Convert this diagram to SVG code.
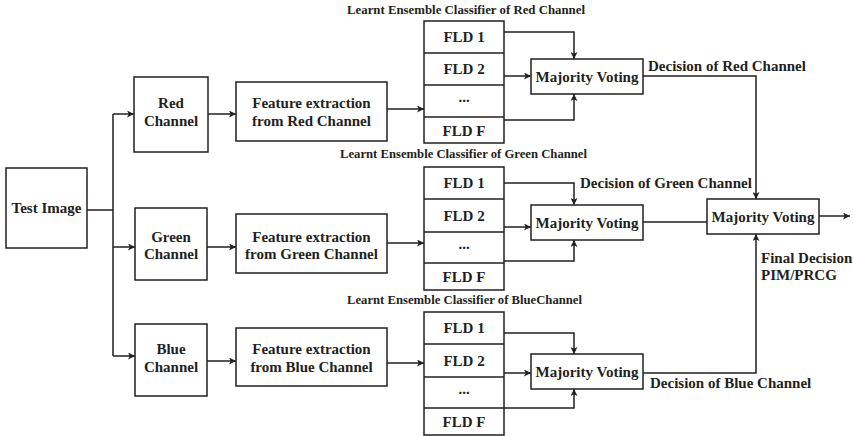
<svg xmlns="http://www.w3.org/2000/svg" width="853" height="436" viewBox="0 0 853 436">
  <defs>
    <style>
      .box { fill: #fff; stroke: #231f20; stroke-width: 1.5; }
      .ln { fill: none; stroke: #231f20; stroke-width: 1.5; }
      .arr { fill: none; stroke: #231f20; stroke-width: 1.5; marker-end: url(#ah); }
      text { font-family: "Liberation Serif", "Times New Roman", serif; font-weight: bold; fill: #231f20; }
      .t { font-size: 15px; text-anchor: middle; }
      .l { font-size: 15px; }
      .cap { font-size: 12px; }
    </style>
    <marker id="ah" viewBox="0 0 10 10" refX="10" refY="5" markerWidth="7" markerHeight="7" markerUnits="userSpaceOnUse" orient="auto">
      <path d="M0,0 L10,5 L0,10 L2.5,5 z" fill="#231f20"/>
    </marker>
  </defs>

  <rect width="853" height="436" fill="#fff"/>

  <!-- connectors -->
  <g id="connectors">
    <!-- input fan-out -->
    <path class="ln" d="M87,210 H113 M113,114 V356"/>
    <path class="arr" d="M113,114 H134"/>
    <path class="arr" d="M113,247 H135"/>
    <path class="arr" d="M113,356 H135"/>
    <!-- channel to feature extraction -->
    <path class="arr" d="M208,114 H236"/>
    <path class="arr" d="M207,247 H236"/>
    <path class="arr" d="M207,361 H236"/>
    <!-- feature extraction to classifiers -->
    <path class="arr" d="M387,109 H424"/>
    <path class="arr" d="M387,243 H424"/>
    <path class="arr" d="M387,363 H424"/>
    <!-- red ensemble to voting -->
    <path class="arr" d="M504,32 H574 V59"/>
    <path class="arr" d="M504,76 H531"/>
    <path class="arr" d="M504,120 H574 V94"/>
    <!-- green ensemble to voting -->
    <path class="arr" d="M504,183 H574 V205"/>
    <path class="arr" d="M504,227 H531"/>
    <path class="arr" d="M504,261 H574 V240"/>
    <!-- blue ensemble to voting -->
    <path class="arr" d="M504,333 H574 V354"/>
    <path class="arr" d="M504,373 H531"/>
    <path class="arr" d="M504,408 H574 V389"/>
    <!-- channel decisions to final voting -->
    <path class="arr" d="M643,76 H756 V199"/>
    <path class="ln" d="M643,222 H707"/>
    <path class="arr" d="M643,373 H756 V234"/>
    <!-- final output -->
    <path class="arr" d="M819,216 H850"/>
  </g>

  <g id="test-image">
    <rect class="box" x="6" y="168" width="81" height="80"/>
    <text class="t" x="46.5" y="213">Test Image</text>
  </g>

  <g id="red-channel">
    <rect class="box" x="134" y="77" width="74" height="75"/>
    <text class="t" x="171" y="108">Red</text>
    <text class="t" x="171" y="126">Channel</text>
  </g>
  <g id="green-channel">
    <rect class="box" x="135" y="208" width="72" height="72"/>
    <text class="t" x="171" y="242">Green</text>
    <text class="t" x="171" y="259">Channel</text>
  </g>
  <g id="blue-channel">
    <rect class="box" x="135" y="324" width="72" height="72"/>
    <text class="t" x="171" y="354">Blue</text>
    <text class="t" x="171" y="372">Channel</text>
  </g>

  <g id="feature-red">
    <rect class="box" x="236" y="82" width="151" height="59"/>
    <text class="t" x="311.5" y="108">Feature extraction</text>
    <text class="t" x="311.5" y="126">from Red Channel</text>
  </g>
  <g id="feature-green">
    <rect class="box" x="236" y="214" width="151" height="59"/>
    <text class="t" x="311.5" y="242">Feature extraction</text>
    <text class="t" x="311.5" y="259">from Green Channel</text>
  </g>
  <g id="feature-blue">
    <rect class="box" x="236" y="328" width="151" height="58"/>
    <text class="t" x="311.5" y="354">Feature extraction</text>
    <text class="t" x="311.5" y="372">from Blue Channel</text>
  </g>

  <g id="ensemble-red">
    <text class="cap" x="347" y="14" textLength="238" lengthAdjust="spacingAndGlyphs">Learnt Ensemble Classifier of Red Channel</text>
    <rect class="box" x="424" y="21" width="80" height="122"/>
    <path class="ln" d="M424,53 H504 M424,85 H504 M424,117 H504"/>
    <text class="t" x="464" y="42">FLD 1</text>
    <text class="t" x="464" y="74">FLD 2</text>
    <text class="t" x="464" y="102">...</text>
    <text class="t" x="464" y="136">FLD F</text>
  </g>
  <g id="ensemble-green">
    <text class="cap" x="340" y="158" textLength="247" lengthAdjust="spacingAndGlyphs">Learnt Ensemble Classifier of Green Channel</text>
    <rect class="box" x="424" y="167" width="80" height="123"/>
    <path class="ln" d="M424,199 H504 M424,232 H504 M424,263 H504"/>
    <text class="t" x="464" y="188">FLD 1</text>
    <text class="t" x="464" y="221">FLD 2</text>
    <text class="t" x="464" y="249">...</text>
    <text class="t" x="464" y="282">FLD F</text>
  </g>
  <g id="ensemble-blue">
    <text class="cap" x="347" y="304" textLength="235" lengthAdjust="spacingAndGlyphs">Learnt Ensemble Classifier of BlueChannel</text>
    <rect class="box" x="424" y="312" width="80" height="123"/>
    <path class="ln" d="M424,344 H504 M424,377 H504 M424,408 H504"/>
    <text class="t" x="464" y="333">FLD 1</text>
    <text class="t" x="464" y="366">FLD 2</text>
    <text class="t" x="464" y="394">...</text>
    <text class="t" x="464" y="427">FLD F</text>
  </g>

  <g id="voting-red">
    <rect class="box" x="531" y="59" width="112" height="35"/>
    <text class="t" x="587" y="82">Majority Voting</text>
  </g>
  <g id="voting-green">
    <rect class="box" x="531" y="205" width="112" height="35"/>
    <text class="t" x="587" y="228">Majority Voting</text>
  </g>
  <g id="voting-blue">
    <rect class="box" x="531" y="354" width="112" height="35"/>
    <text class="t" x="587" y="377">Majority Voting</text>
  </g>
  <g id="voting-final">
    <rect class="box" x="707" y="199" width="112" height="35"/>
    <text class="t" x="763" y="222">Majority Voting</text>
  </g>

  <g id="labels">
    <text class="l" x="648" y="71">Decision of Red Channel</text>
    <text class="l" x="580" y="188">Decision of Green Channel</text>
    <text class="l" x="650" y="388">Decision of Blue Channel</text>
    <text class="l" x="761" y="263">Final Decision</text>
    <text class="l" x="761" y="280">PIM/PRCG</text>
  </g>
</svg>
